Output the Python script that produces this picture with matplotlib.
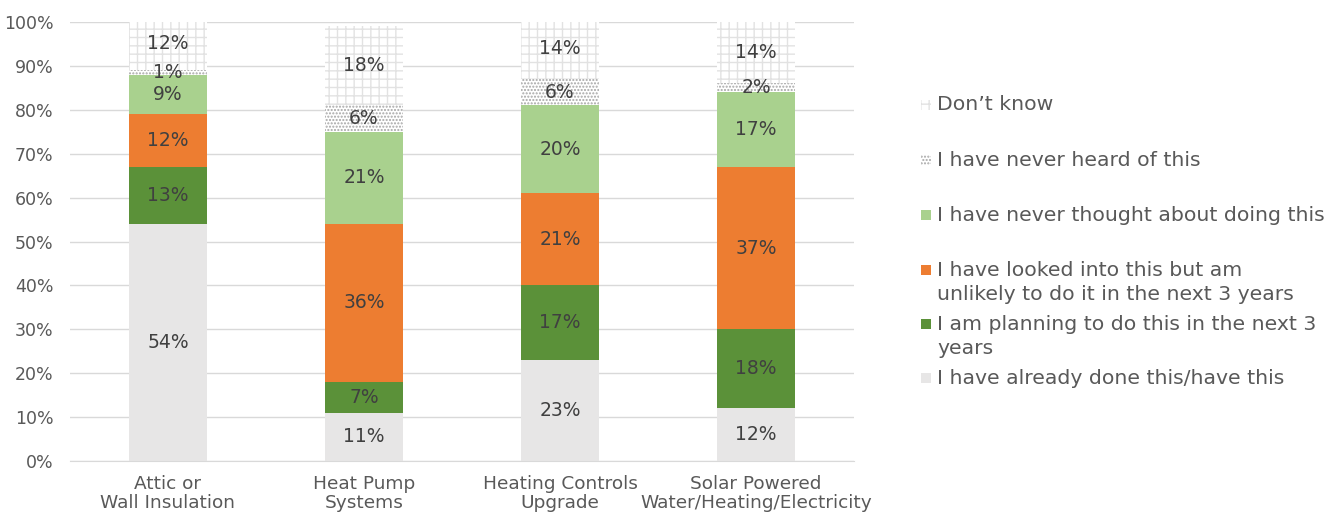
import matplotlib.pyplot as plt
from matplotlib.patches import Rectangle
import numpy as np

plt.rcParams['font.family'] = ['DejaVu Sans']
plt.rcParams['hatch.linewidth'] = 1.0

categories = ['Attic or\nWall Insulation', 'Heat Pump\nSystems',
              'Heating Controls\nUpgrade', 'Solar Powered\nWater/Heating/Electricity']

already_done = [54, 11, 23, 12]
planning = [13, 7, 17, 18]
looked_into = [12, 36, 21, 37]
never_thought = [9, 21, 20, 17]
never_heard = [1, 6, 6, 2]
dont_know = [12, 18, 14, 14]

series = [
    ('I have already done this/have this', already_done, '#e7e6e6', None, None),
    ('I am planning to do this in the next 3\nyears', planning, '#5b9139', None, None),
    ('I have looked into this but am\nunlikely to do it in the next 3 years', looked_into, '#ed7d31', None, None),
    ('I have never thought about doing this', never_thought, '#a9d18e', None, None),
    ('I have never heard of this', never_heard, 'white', '.....', '#a6a6a6'),
    ('Don\u2019t know', dont_know, 'white', '++', '#e2e2e2'),
]

fig = plt.figure(figsize=(13.39, 5.16), dpi=100)
ax = fig.add_axes([70 / 1339, 1 - 461 / 516, 784 / 1339, 439 / 516])

x = np.arange(len(categories))
bottom = np.zeros(len(categories))
for name, vals, color, hatch, hcol in series:
    vals = np.array(vals, dtype=float)
    if hatch:
        ax.bar(x, vals / 100, 0.4, bottom=bottom / 100, color=color, hatch=hatch,
               edgecolor=hcol, linewidth=0, zorder=2)
    else:
        ax.bar(x, vals / 100, 0.4, bottom=bottom / 100, color=color, linewidth=0, zorder=2)
    for xi, b, v in zip(x, bottom, vals):
        ax.text(xi, (b + v / 2) / 100, '%d%%' % v, ha='center', va='center',
                fontsize=13.5, color='#404040', zorder=3)
    bottom += vals

ax.set_xlim(-0.5, 3.5)
ax.set_ylim(0, 1)
ax.set_yticks(np.arange(0, 1.01, 0.1))
ax.set_yticklabels(['%d%%' % v for v in range(0, 101, 10)], fontsize=12.5, color='#595959')
ax.set_xticks(x)
ax.set_xticklabels(categories, fontsize=13.3, color='#595959', linespacing=1.05)
ax.tick_params(length=0, axis='y', pad=12)
ax.tick_params(length=0, axis='x', pad=10)
ax.yaxis.grid(True, color='#d9d9d9', linewidth=1, zorder=0)
ax.set_axisbelow(True)
for s in ['top', 'right', 'left']:
    ax.spines[s].set_visible(False)
ax.spines['bottom'].set_color('#d9d9d9')

# legend drawn by hand, top entry first
legend_y = [105, 160, 215, 270, 324, 378]
for (name, vals, color, hatch, hcol), y in zip(series[::-1], legend_y):
    fig.add_artist(Rectangle((921 / 1339, 1 - (y + 5) / 516), 10 / 1339, 10 / 516,
                             transform=fig.transFigure, facecolor=color, hatch=hatch,
                             edgecolor=hcol if hatch else color, linewidth=0))
    for i, line in enumerate(name.split('\n')):
        fig.text(937 / 1339, 1 - (y + i * 24.5) / 516, line, ha='left', va='center',
                 fontsize=14.7, color='#595959')

plt.savefig('out.png', dpi=100)
